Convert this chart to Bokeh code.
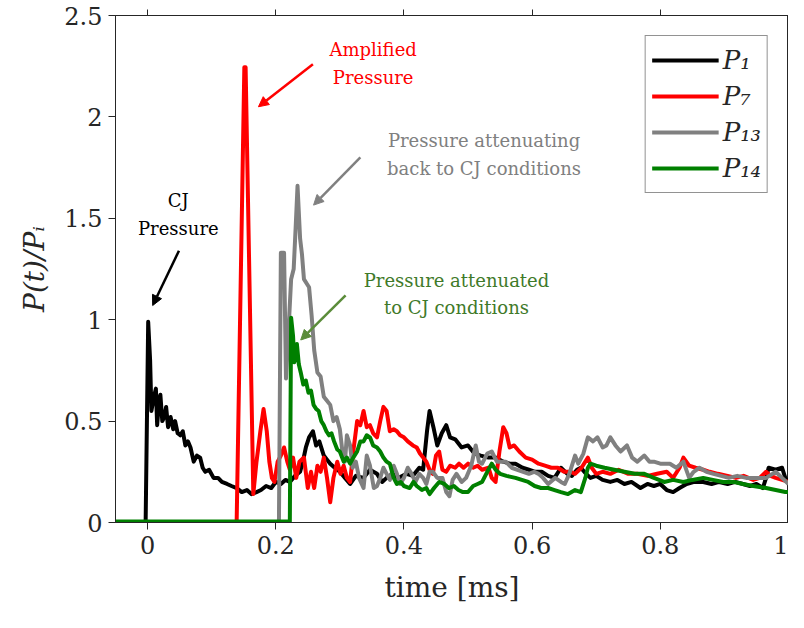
from bokeh.plotting import figure
from bokeh.models import Range1d, LinearAxis, Legend, LegendItem, Label, Arrow, NormalHead, FixedTicker
from bokeh.embed import file_html
from bokeh.resources import INLINE

# ---------------- data ----------------
x_ticks = [0, 0.2, 0.4, 0.6, 0.8, 1.0]
x_tick_labels = ["0", "0.2", "0.4", "0.6", "0.8", "1"]
y_ticks = [0, 0.5, 1.0, 1.5, 2.0, 2.5]
y_tick_labels = ["0", "0.5", "1", "1.5", "2", "2.5"]

series_names = ["P\u2081", "P\u2087", "P\u2081\u2083", "P\u2081\u2084"]
series_colors = ["#000000", "#ff0000", "#808080", "#008000"]

p1_t = [-0.06, -0.003, 0.001, 0.004, 0.006, 0.010, 0.013, 0.015, 0.018, 0.020, 0.023, 0.026, 0.029, 0.032,
        0.036, 0.040, 0.043, 0.047, 0.051, 0.055, 0.059, 0.063, 0.067, 0.072, 0.077, 0.082, 0.086, 0.090,
        0.096, 0.103, 0.110, 0.116, 0.124, 0.131, 0.139, 0.147, 0.155, 0.162, 0.170, 0.177, 0.185, 0.193,
        0.200, 0.208, 0.215, 0.222, 0.230, 0.238, 0.243, 0.247, 0.252, 0.258, 0.263, 0.268, 0.275, 0.280,
        0.285, 0.292, 0.300, 0.308, 0.316, 0.325, 0.337, 0.347, 0.358, 0.366, 0.373, 0.382, 0.392, 0.404,
        0.414, 0.424, 0.430, 0.436, 0.440, 0.446, 0.452, 0.459, 0.466, 0.472, 0.480, 0.490, 0.500, 0.510,
        0.520, 0.532, 0.543, 0.555, 0.565, 0.574, 0.585, 0.595, 0.605, 0.615, 0.625, 0.635, 0.645, 0.655,
        0.662, 0.670, 0.676, 0.684, 0.691, 0.700, 0.710, 0.722, 0.733, 0.744, 0.755, 0.769, 0.780, 0.790,
        0.800, 0.810, 0.820, 0.830, 0.841, 0.853, 0.867, 0.880, 0.892, 0.905, 0.917, 0.929, 0.940, 0.950,
        0.960, 0.965, 0.969, 0.980, 0.990, 0.995, 1.0]
p1_v = [0.0, 0.0, 0.99, 0.80, 0.55, 0.62, 0.66, 0.48, 0.60, 0.63, 0.50, 0.52, 0.57, 0.47,
        0.52, 0.46, 0.50, 0.44, 0.43, 0.45, 0.38, 0.40, 0.37, 0.30, 0.33, 0.32, 0.27, 0.25,
        0.26, 0.22, 0.22, 0.20, 0.19, 0.18, 0.17, 0.15, 0.16, 0.14, 0.15, 0.16, 0.18, 0.17,
        0.20, 0.19, 0.21, 0.20, 0.23, 0.25, 0.31, 0.37, 0.42, 0.45, 0.38, 0.40, 0.33, 0.31,
        0.29, 0.27, 0.25, 0.22, 0.19, 0.23, 0.22, 0.26, 0.24, 0.20, 0.22, 0.24, 0.22, 0.24,
        0.23, 0.27, 0.26, 0.45, 0.55, 0.47, 0.38, 0.44, 0.48, 0.42, 0.41, 0.37, 0.38, 0.34,
        0.33, 0.32, 0.32, 0.30, 0.29, 0.29, 0.27, 0.26, 0.25, 0.25, 0.23, 0.22, 0.27, 0.24,
        0.23, 0.26, 0.27, 0.24, 0.22, 0.23, 0.21, 0.20, 0.21, 0.19, 0.20, 0.17, 0.19, 0.18,
        0.19, 0.16, 0.15, 0.17, 0.19, 0.20, 0.20, 0.19, 0.20, 0.19, 0.20, 0.19, 0.18, 0.19,
        0.17, 0.22, 0.27, 0.26, 0.27, 0.22, 0.20]

p7_t = [-0.06, 0.139, 0.151, 0.153, 0.165, 0.170, 0.176, 0.181, 0.186, 0.190, 0.194, 0.198, 0.203, 0.208,
        0.213, 0.218, 0.222, 0.227, 0.232, 0.237, 0.244, 0.250, 0.255, 0.260, 0.265, 0.270, 0.275, 0.280,
        0.285, 0.290, 0.296, 0.301, 0.306, 0.311, 0.316, 0.321, 0.327, 0.332, 0.337, 0.342, 0.347, 0.352,
        0.358, 0.363, 0.368, 0.373, 0.378, 0.384, 0.389, 0.394, 0.400, 0.406, 0.414, 0.420, 0.425, 0.430,
        0.435, 0.440, 0.445, 0.450, 0.455, 0.460, 0.466, 0.472, 0.480, 0.486, 0.493, 0.500, 0.508, 0.515,
        0.522, 0.532, 0.537, 0.543, 0.549, 0.555, 0.560, 0.565, 0.572, 0.580, 0.590, 0.600, 0.610, 0.620,
        0.630, 0.640, 0.650, 0.660, 0.667, 0.677, 0.687, 0.693, 0.700, 0.710, 0.722, 0.735, 0.750, 0.764,
        0.780, 0.795, 0.810, 0.820, 0.830, 0.836, 0.845, 0.855, 0.867, 0.877, 0.890, 0.905, 0.918, 0.930,
        0.945, 0.955, 0.965, 0.972, 0.980, 0.990, 1.0]
p7_v = [0.0, 0.0, 2.245, 2.245, 0.14, 0.30, 0.45, 0.56, 0.45, 0.30, 0.22, 0.20, 0.30, 0.33,
        0.37, 0.30, 0.26, 0.32, 0.22, 0.30, 0.32, 0.17, 0.25, 0.17, 0.28, 0.25, 0.32, 0.22,
        0.10, 0.22, 0.30, 0.24, 0.28, 0.22, 0.20, 0.35, 0.50, 0.48, 0.55, 0.47, 0.48, 0.44,
        0.42, 0.50, 0.57, 0.55, 0.45, 0.46, 0.45, 0.43, 0.42, 0.40, 0.38, 0.37, 0.34, 0.32,
        0.30, 0.26, 0.24, 0.33, 0.35, 0.26, 0.25, 0.28, 0.27, 0.29, 0.27, 0.29, 0.27, 0.28,
        0.26, 0.27, 0.22, 0.20, 0.35, 0.47, 0.44, 0.37, 0.38, 0.35, 0.32, 0.31, 0.29, 0.28,
        0.27, 0.27, 0.25, 0.25, 0.24, 0.27, 0.32, 0.27, 0.24, 0.25, 0.24, 0.26, 0.24, 0.24,
        0.23, 0.24, 0.25, 0.22, 0.27, 0.32, 0.28, 0.27, 0.26, 0.25, 0.24, 0.23, 0.22, 0.23,
        0.21, 0.22, 0.25, 0.23, 0.22, 0.21, 0.20]

p13_t = [-0.06, 0.205, 0.208, 0.213, 0.216, 0.220, 0.224, 0.228, 0.231, 0.234, 0.238, 0.241, 0.244, 0.248,
         0.252, 0.256, 0.260, 0.265, 0.270, 0.275, 0.280, 0.285, 0.290, 0.295, 0.300, 0.304, 0.308, 0.311,
         0.316, 0.320, 0.325, 0.330, 0.337, 0.342, 0.347, 0.353, 0.358, 0.363, 0.368, 0.373, 0.378, 0.384,
         0.389, 0.394, 0.400, 0.406, 0.412, 0.418, 0.424, 0.430, 0.435, 0.440, 0.445, 0.452, 0.460, 0.466,
         0.471, 0.476, 0.482, 0.490, 0.497, 0.505, 0.512, 0.517, 0.522, 0.530, 0.537, 0.545, 0.552, 0.559,
         0.568, 0.577, 0.586, 0.595, 0.603, 0.610, 0.617, 0.625, 0.636, 0.645, 0.651, 0.658, 0.667, 0.672,
         0.680, 0.687, 0.695, 0.702, 0.710, 0.716, 0.722, 0.730, 0.738, 0.748, 0.756, 0.764, 0.775, 0.783,
         0.790, 0.800, 0.815, 0.825, 0.836, 0.845, 0.852, 0.861, 0.872, 0.883, 0.895, 0.907, 0.920, 0.934,
         0.950, 0.965, 0.975, 0.980, 0.990, 1.0]
p13_v = [0.0, 0.0, 1.33, 1.33, 0.71, 0.95, 1.20, 1.25, 1.45, 1.66, 1.40, 1.32, 1.20, 1.18,
         1.16, 1.02, 0.85, 0.74, 0.72, 0.62, 0.60, 0.58, 0.50, 0.52, 0.46, 0.35, 0.30, 0.43,
         0.38, 0.27, 0.30, 0.22, 0.17, 0.33, 0.28, 0.17, 0.18, 0.22, 0.27, 0.24, 0.21, 0.28,
         0.24, 0.19, 0.22, 0.27, 0.24, 0.20, 0.24, 0.22, 0.19, 0.25, 0.25, 0.22, 0.22, 0.15,
         0.13, 0.21, 0.24, 0.20, 0.22, 0.28, 0.38, 0.30, 0.29, 0.34, 0.35, 0.30, 0.30, 0.30,
         0.27, 0.26, 0.25, 0.24, 0.25, 0.24, 0.22, 0.19, 0.22, 0.20, 0.19, 0.24, 0.33, 0.29,
         0.34, 0.42, 0.40, 0.42, 0.37, 0.38, 0.42, 0.38, 0.35, 0.38, 0.32, 0.30, 0.33, 0.30,
         0.30, 0.29, 0.29, 0.27, 0.30, 0.22, 0.25, 0.27, 0.25, 0.24, 0.23, 0.22, 0.23, 0.22,
         0.22, 0.22, 0.24, 0.25, 0.22, 0.19]

p14_t = [-0.06, 0.222, 0.224, 0.227, 0.229, 0.233, 0.236, 0.239, 0.243, 0.247, 0.251, 0.255, 0.259, 0.263,
         0.267, 0.271, 0.275, 0.279, 0.283, 0.287, 0.291, 0.296, 0.300, 0.306, 0.311, 0.316, 0.321, 0.327,
         0.332, 0.337, 0.342, 0.347, 0.352, 0.358, 0.363, 0.368, 0.373, 0.378, 0.384, 0.389, 0.395, 0.400,
         0.409, 0.415, 0.420, 0.428, 0.435, 0.440, 0.447, 0.455, 0.463, 0.470, 0.478, 0.485, 0.492, 0.500,
         0.508, 0.515, 0.522, 0.530, 0.537, 0.543, 0.550, 0.560, 0.574, 0.584, 0.594, 0.604, 0.614, 0.625,
         0.635, 0.645, 0.656, 0.667, 0.676, 0.683, 0.687, 0.691, 0.700, 0.713, 0.728, 0.744, 0.760, 0.775,
         0.790, 0.806, 0.820, 0.836, 0.850, 0.867, 0.882, 0.898, 0.915, 0.929, 0.945, 0.965, 0.980, 0.995,
         1.0]
p14_v = [0.005, 0.005, 1.01, 0.92, 0.79, 0.88, 0.78, 0.74, 0.68, 0.70, 0.64, 0.65, 0.58, 0.56,
         0.55, 0.50, 0.48, 0.45, 0.43, 0.44, 0.40, 0.36, 0.35, 0.30, 0.32, 0.29, 0.32, 0.35,
         0.40, 0.40, 0.43, 0.42, 0.38, 0.37, 0.35, 0.32, 0.30, 0.29, 0.22, 0.19, 0.20, 0.18,
         0.17, 0.20, 0.18, 0.16, 0.17, 0.14, 0.17, 0.20, 0.19, 0.17, 0.18, 0.16, 0.15, 0.15,
         0.18, 0.19, 0.20, 0.25, 0.29, 0.26, 0.24, 0.23, 0.22, 0.21, 0.20, 0.18, 0.17, 0.17,
         0.16, 0.15, 0.14, 0.16, 0.15, 0.22, 0.27, 0.29, 0.28, 0.27, 0.26, 0.25, 0.24, 0.24,
         0.22, 0.20, 0.21, 0.20, 0.21, 0.22, 0.21, 0.20, 0.20, 0.19, 0.18, 0.17, 0.16, 0.15,
         0.15]

series_t = [p1_t, p7_t, p13_t, p14_t]
series_v = [p1_v, p7_v, p13_v, p14_v]

# ---------------- figure ----------------
SERIF = "DejaVu Serif"
AX = "#262626"

p = figure(width=788, height=612, output_backend="svg", toolbar_location=None,
           x_range=Range1d(-0.05, 1.0), y_range=Range1d(0, 2.5),
           min_border_left=115, min_border_right=0, min_border_top=15, min_border_bottom=90,
           background_fill_color="white", border_fill_color="white")
p.grid.visible = False
p.outline_line_color = AX
p.outline_line_width = 1

for ax in (p.xaxis[0], p.yaxis[0]):
    ax.major_label_text_font = SERIF
    ax.major_label_text_font_size = "24px"
    ax.major_label_text_color = AX
    ax.axis_line_color = AX
    ax.major_tick_line_color = AX
    ax.major_tick_in = 0
    ax.major_tick_out = 7
    ax.minor_tick_line_color = None
    ax.axis_label_text_font = SERIF
    ax.axis_label_text_color = AX

p.xaxis.ticker = FixedTicker(ticks=x_ticks)
p.xaxis.major_label_overrides = {t: l for t, l in zip(x_ticks, x_tick_labels)}
p.xaxis.major_label_standoff = 6
p.xaxis.axis_label = "time [ms]"
p.xaxis.axis_label_text_font_size = "28px"
p.xaxis.axis_label_text_font_style = "normal"
p.xaxis.axis_label_standoff = 14

p.yaxis.ticker = FixedTicker(ticks=y_ticks)
p.yaxis.major_label_overrides = {t: l for t, l in zip(y_ticks, y_tick_labels)}
p.yaxis.major_label_standoff = 6
p.yaxis.axis_label = "P(t)/P\u1d62"
p.yaxis.axis_label_text_font_size = "28px"
p.yaxis.axis_label_text_font_style = "italic"
p.yaxis.axis_label_standoff = 10

top = LinearAxis(ticker=FixedTicker(ticks=x_ticks),
                 major_label_overrides={t: "" for t in x_ticks},
                 major_label_text_font_size="1px", major_label_standoff=0,
                 major_tick_in=0, major_tick_out=6, minor_tick_line_color=None,
                 axis_line_color=AX, major_tick_line_color=AX)
p.add_layout(top, "above")

# ---------------- lines ----------------
renderers = []
for t, v, c in zip(series_t, series_v, series_colors):
    r = p.line(t, v, line_color=c, line_width=4, line_join="round")
    renderers.append(r)

legend = Legend(items=[LegendItem(label=n, renderers=[r]) for n, r in zip(series_names, renderers)],
                location="top_right", margin=20, padding=6, spacing=0,
                glyph_width=67, glyph_height=36, label_height=36, label_standoff=4,
                label_text_font=SERIF, label_text_font_style="italic", label_text_font_size="26px",
                label_text_color=AX, border_line_color=AX, border_line_width=1,
                background_fill_color="white", background_fill_alpha=1.0)
p.add_layout(legend)

# ---------------- annotations ----------------
def note(x, y, text, color):
    p.add_layout(Label(x=x, y=y, text=text, text_align="center", text_baseline="middle",
                       text_font=SERIF, text_font_size="18px", text_color=color))

def arrow(x0, y0, x1, y1, color):
    p.add_layout(Arrow(end=NormalHead(size=10, fill_color=color, line_color=color),
                       x_start=x0, y_start=y0, x_end=x1, y_end=y1,
                       line_color=color, line_width=2.5))

note(0.048, 1.59, "CJ", "#000000")
note(0.048, 1.45, "Pressure", "#000000")
arrow(0.049, 1.34, 0.008, 1.07, "#000000")

note(0.352, 2.33, "Amplified", "#ff0000")
note(0.352, 2.195, "Pressure", "#ff0000")
arrow(0.258, 2.26, 0.173, 2.05, "#ff0000")

note(0.525, 1.885, "Pressure attenuating", "#808080")
note(0.525, 1.745, "back to CJ conditions", "#808080")
arrow(0.332, 1.80, 0.259, 1.565, "#808080")

note(0.482, 1.195, "Pressure attenuated", "#3f7a2a")
note(0.482, 1.06, "to CJ conditions", "#3f7a2a")
arrow(0.309, 1.12, 0.239, 0.90, "#5b8c3a")

open("out.html", "w").write(file_html(p, INLINE))
